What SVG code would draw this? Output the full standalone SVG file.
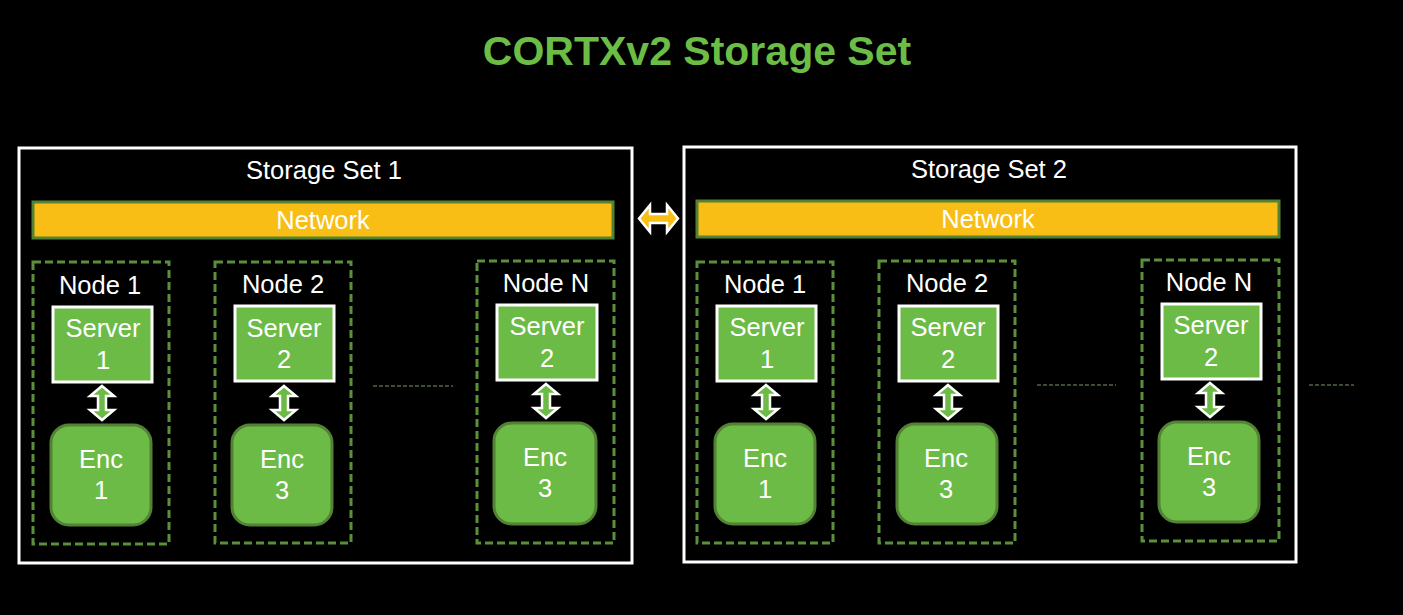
<svg xmlns="http://www.w3.org/2000/svg" xmlns:xlink="http://www.w3.org/1999/xlink" width="1403" height="615" viewBox="0 0 1403 615">
<style>
text{font-family:"Liberation Sans",Arial,sans-serif;fill:#ffffff;text-anchor:middle}
.title{font-size:41px;font-weight:bold;fill:#6bbd46}
.lbl{font-size:25.5px}
.set{fill:none;stroke:#ffffff;stroke-width:3}
.net{fill:#f8be16;stroke:#548235;stroke-width:3}
.node{fill:none;stroke:#5a8f3b;stroke-width:3;stroke-dasharray:8 4}
.srv{fill:#6cbb46;stroke:#ffffff;stroke-width:3}
.enc{fill:#6cbb46;stroke:#548235;stroke-width:3}
.dots{stroke:#7a9a6a;stroke-width:1;stroke-dasharray:4 2;fill:none}
</style>
<defs>
<path id="varrow" d="M0,-17 L12,-7 L4,-7 L4,7 L12,7 L0,17 L-12,7 L-4,7 L-4,-7 L-12,-7 Z" fill="#6cbb46" stroke="#ffffff" stroke-width="2.5" stroke-linejoin="miter"/>
</defs>
<rect width="1403" height="615" fill="#000000"/>
<text class="title" x="697" y="65">CORTXv2 Storage Set</text>

<g id="set1">
<rect class="set" x="19" y="148" width="613" height="415"/>
<text class="lbl" x="324" y="179">Storage Set 1</text>
</g>
<g id="net1">
<rect class="net" x="33" y="202" width="580" height="36"/>
<text class="lbl" x="323" y="229">Network</text>
</g>
<g id="s1node1">
<rect class="node" x="33" y="262" width="136" height="282"/>
<text class="lbl" x="100" y="294">Node 1</text>
<rect class="srv" x="53" y="307" width="99" height="75"/>
<text class="lbl" x="103" y="337">Server</text>
<text class="lbl" x="103" y="369">1</text>
<rect class="enc" x="51" y="425" width="100" height="100" rx="18"/>
<text class="lbl" x="101" y="468">Enc</text>
<text class="lbl" x="101" y="499">1</text>
</g>
<g id="s1node2">
<rect class="node" x="215" y="262" width="136" height="281"/>
<text class="lbl" x="283" y="293">Node 2</text>
<rect class="srv" x="235" y="306" width="99" height="75"/>
<text class="lbl" x="284" y="337">Server</text>
<text class="lbl" x="284" y="368">2</text>
<rect class="enc" x="232" y="425" width="100" height="100" rx="18"/>
<text class="lbl" x="282" y="468">Enc</text>
<text class="lbl" x="282" y="499">3</text>
</g>
<g id="s1nodeN">
<rect class="node" x="477" y="261" width="137" height="282"/>
<text class="lbl" x="546" y="292">Node N</text>
<rect class="srv" x="497" y="305" width="100" height="75"/>
<text class="lbl" x="547" y="335">Server</text>
<text class="lbl" x="547" y="367">2</text>
<rect class="enc" x="494" y="423" width="102" height="101" rx="18"/>
<text class="lbl" x="545" y="466">Enc</text>
<text class="lbl" x="545" y="497">3</text>
</g>

<g id="set2">
<rect class="set" x="684" y="147" width="612" height="415"/>
<text class="lbl" x="989" y="178">Storage Set 2</text>
</g>
<g id="net2">
<rect class="net" x="697" y="201" width="582" height="36"/>
<text class="lbl" x="988" y="228">Network</text>
</g>
<g id="s2node1">
<rect class="node" x="697" y="262" width="136" height="281"/>
<text class="lbl" x="765" y="293">Node 1</text>
<rect class="srv" x="717" y="306" width="99" height="75"/>
<text class="lbl" x="767" y="336">Server</text>
<text class="lbl" x="767" y="368">1</text>
<rect class="enc" x="715" y="424" width="100" height="100" rx="18"/>
<text class="lbl" x="765" y="467">Enc</text>
<text class="lbl" x="765" y="498">1</text>
</g>
<g id="s2node2">
<rect class="node" x="879" y="261" width="136" height="282"/>
<text class="lbl" x="947" y="292">Node 2</text>
<rect class="srv" x="899" y="306" width="99" height="75"/>
<text class="lbl" x="948" y="336">Server</text>
<text class="lbl" x="948" y="368">2</text>
<rect class="enc" x="897" y="424" width="100" height="100" rx="18"/>
<text class="lbl" x="946" y="467">Enc</text>
<text class="lbl" x="946" y="498">3</text>
</g>
<g id="s2nodeN">
<rect class="node" x="1142" y="260" width="137" height="281"/>
<text class="lbl" x="1209" y="291">Node N</text>
<rect class="srv" x="1162" y="304" width="99" height="75"/>
<text class="lbl" x="1211" y="334">Server</text>
<text class="lbl" x="1211" y="366">2</text>
<rect class="enc" x="1159" y="422" width="100" height="100" rx="18"/>
<text class="lbl" x="1209" y="465">Enc</text>
<text class="lbl" x="1209" y="496">3</text>
</g>

<g id="connectors">
<use xlink:href="#varrow" x="102" y="403"/>
<use xlink:href="#varrow" x="284" y="403"/>
<use xlink:href="#varrow" x="546" y="401"/>
<use xlink:href="#varrow" x="766" y="402"/>
<use xlink:href="#varrow" x="948" y="402"/>
<use xlink:href="#varrow" x="1210" y="400"/>
<path d="M639,218.5 L650,205 L650,214 L667,214 L667,205 L678,218.5 L667,232 L667,223 L650,223 L650,232 Z" fill="#f8be16" stroke="#ffffff" stroke-width="2.5"/>
<line class="dots" x1="373" y1="386" x2="453" y2="386"/>
<line class="dots" x1="1037" y1="385" x2="1116" y2="385"/>
<line class="dots" x1="1309" y1="385" x2="1354" y2="385"/>
</g>
</svg>
